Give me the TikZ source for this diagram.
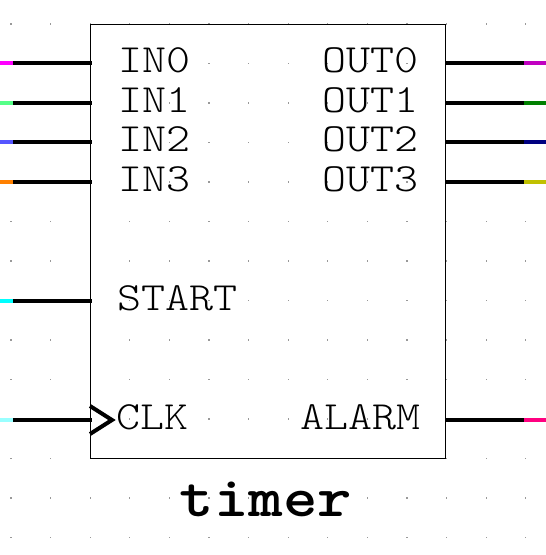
\documentclass[tikz,border=0pt]{standalone}
\usepackage{fontspec}
\newfontfamily\portfam{Latin Modern Mono Light}[FakeStretch=1.143]
\newfontfamily\titlefam{Latin Modern Mono Light}[FakeStretch=1.15]
\newcommand{\portfont}{\portfam\fontsize{40}{40}\selectfont}
\newcommand{\titlefont}{\titlefam\bfseries\fontsize{57}{57}\selectfont}
\definecolor{cIna}{HTML}{FF00FF}
\definecolor{cInb}{HTML}{55FF88}
\definecolor{cInc}{HTML}{5555FF}
\definecolor{cInd}{HTML}{FF8000}
\definecolor{cStart}{HTML}{00FFFF}
\definecolor{cClk}{HTML}{99FFFF}
\definecolor{cOa}{HTML}{C000C0}
\definecolor{cOb}{HTML}{008000}
\definecolor{cOc}{HTML}{000080}
\definecolor{cOd}{HTML}{C0C000}
\definecolor{cAlarm}{HTML}{FF0080}
\tikzset{
  griddot/.style={fill=black!40,draw=none},
  block/.style={draw=black,line width=1.3pt,fill=none},
  wire/.style={draw=black,line width=4pt},
  stub/.style={line width=4pt},
  port/.style={font=\portfont,inner sep=0pt,outer sep=0pt,anchor=base west},
  portr/.style={font=\portfont,inner sep=0pt,outer sep=0pt,anchor=base east},
  title/.style={font=\titlefont,inner sep=0pt,outer sep=0pt,anchor=base},
  clocktip/.style={draw=black,line width=4pt,line join=miter},
}
\begin{document}
\begin{tikzpicture}[x=1pt,y=-1pt]
\useasboundingbox (0,0) rectangle (546,555);
\fill[white] (0,0) rectangle (546,555);
% grid of dots
\foreach \i in {0,...,13}{\foreach \j in {0,...,13}{
  \fill[griddot] ({11+39.6*\i-0.6},{24+39.5*\j-0.6}) rectangle ++(1.2,1.2);
}}
% named end points
\foreach \n/\y in {a/63,b/103,c/142,d/182,s/301,k/420}{
  \coordinate (L\n) at (0,\y);
  \coordinate (M\n) at (13,\y);
  \coordinate (E\n) at (91.5,\y);
}
\foreach \n/\y in {a/63,b/103,c/142,d/182,k/420}{
  \coordinate (R\n) at (546,\y);
  \coordinate (N\n) at (524,\y);
  \coordinate (F\n) at (445,\y);
}
% block
\coordinate (bTL) at (90.5,24.5);
\coordinate (bBR) at (445.5,458.5);
\draw[block] (bTL) rectangle (bBR);
% left stubs and wires
\foreach \n/\c in {a/cIna,b/cInb,c/cInc,d/cInd,s/cStart,k/cClk}{
  \draw[stub,draw=\c] (L\n) -- (M\n);
  \draw[wire] (M\n) -- (E\n);
}
% right stubs and wires
\foreach \n/\c in {a/cOa,b/cOb,c/cOc,d/cOd,k/cAlarm}{
  \draw[stub,draw=\c] (N\n) -- (R\n);
  \draw[wire] (F\n) -- (N\n);
}
% clock marker
\coordinate (ckA) at (90,406);
\coordinate (ckB) at (112,420);
\coordinate (ckC) at (90,434);
\draw[clocktip] (ckA) -- (ckB) -- (ckC);
% labels
\node[port] (in0) at (118,72) {IN0};
\node[port] (in1) at (118,112) {IN1};
\node[port] (in2) at (118,151) {IN2};
\node[port] (in3) at (118,191) {IN3};
\node[port] (start) at (117.5,310) {START};
\node[port] (clk) at (116.5,429) {CLK};
\node[portr] (out0) at (419,72) {OUT0};
\node[portr] (out1) at (419,112) {OUT1};
\node[portr] (out2) at (419,151) {OUT2};
\node[portr] (out3) at (419,191) {OUT3};
\node[portr] (alarm) at (420.5,429) {ALARM};
\node[title] (timer) at (266,516) {timer};
\end{tikzpicture}
\end{document}
